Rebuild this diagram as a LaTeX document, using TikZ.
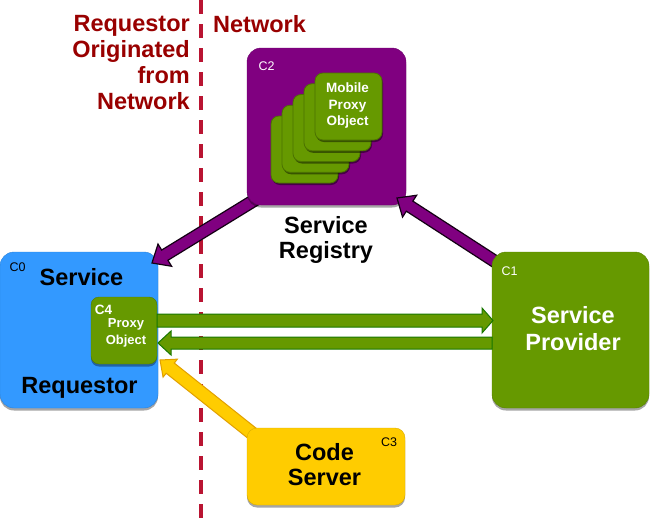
\documentclass[tikz,border=0pt]{standalone}
\usepackage{fontspec}
\setmainfont{Liberation Sans}
\usetikzlibrary{calc,shadows}
\definecolor{cpurple}{RGB}{128,0,128}
\definecolor{cblue}{RGB}{51,153,255}
\definecolor{cgreen}{RGB}{102,153,0}
\definecolor{cyellow}{RGB}{255,204,0}
\definecolor{cdred}{RGB}{153,0,0}
\definecolor{cdash}{RGB}{185,20,50}
\definecolor{cgline}{RGB}{25,120,0}
\definecolor{cyline}{RGB}{225,160,0}
\definecolor{cpline}{RGB}{20,0,20}

\newcommand\blockarrow[6]{% #1 from, #2 to, #3 style, #4 shaft half width, #5 head half width, #6 head length
  \path[#3] let \p1=(#1), \p2=(#2),
     \n1={atan2(\y2-\y1,\x2-\x1)},
     \n2={veclen(\x2-\x1,\y2-\y1)-#6}
   in ($(\p1)+({\n1+90}:#4)$) -- ($(\p1)+(\n1:\n2)+({\n1+90}:#4)$)
   -- ($(\p1)+(\n1:\n2)+({\n1+90}:#5)$) -- (\p2)
   -- ($(\p1)+(\n1:\n2)+({\n1-90}:#5)$) -- ($(\p1)+(\n1:\n2)+({\n1-90}:#4)$)
   -- ($(\p1)+({\n1-90}:#4)$) -- cycle;}

\tikzset{
  box/.style={rounded corners=14pt, inner sep=0pt, outer sep=0pt,
    drop shadow={shadow xshift=0pt, shadow yshift=-2.5pt, opacity=0.35, fill=black}},
  card/.style={rounded corners=8pt, inner sep=0pt, outer sep=0pt, fill=cgreen,
    draw=cgreen!75!black, line width=0.8pt, minimum width=67pt, minimum height=67pt,
    drop shadow={shadow xshift=1pt, shadow yshift=-2pt, opacity=0.45, fill=black}},
  big/.style={font=\fontsize{23.5}{25}\selectfont\bfseries, align=center, inner sep=0pt},
  tag/.style={font=\fontsize{12.5}{14}\selectfont, inner sep=0pt},
  small/.style={font=\fontsize{13.5}{16.5}\selectfont\bfseries, align=center, inner sep=0pt, text=white},
  dashline/.style={draw=cdash, line width=4pt, dash pattern=on 14pt off 10pt},
  parrow/.style={fill=cpurple, draw=cpline, line width=1.2pt, line join=miter},
  garrow/.style={fill=cgreen, draw=cgline, line width=1pt, line join=miter},
  yarrow/.style={fill=cyellow, draw=cyline, line width=1pt, line join=miter},
}

\begin{document}
\begin{tikzpicture}[x=1pt,y=1pt]
\useasboundingbox (0,0) rectangle (650,-523);
\fill[white] (0,0) rectangle (650,-523);

% dashed divider
\coordinate (dtop) at (201,0);
\coordinate (dbot) at (201,-523);
\draw[dashline] (dtop) -- (dbot);

% region labels
\node[big, text=cdred, align=right, anchor=north east, font=\fontsize{23.5}{26}\selectfont\bfseries]
  (lreq) at (190,-15.2) {Requestor\\Originated\\from\hspace*{7pt}\\Network};
\node[big, text=cdred, anchor=base west] (lnet) at (213,-32.5) {Network};

% C0 service requestor
\node[box, fill=cblue, draw=cblue!85!black, minimum width=158pt, minimum height=156pt] (c0) at (79,-330) {};
\node[tag, text=black] (t0) at (17.5,-267.5) {C0};
\node[big, anchor=base] (sreq1) at (81.5,-285) {Service};
\node[big, anchor=base] (sreq2) at (79.5,-393) {Requestor};

% C4 proxy object
\node[box, rounded corners=8pt, fill=cgreen, draw=cgreen!80!black, minimum width=66pt, minimum height=67pt] (c4) at (124,-330.5) {};
\node[small, font=\fontsize{13.5}{16}\selectfont\bfseries] (t4) at (103.5,-310) {C4};
\node[small, font=\fontsize{13}{17}\selectfont\bfseries, anchor=north] (proxy) at (126,-318) {Proxy\\Object};

% purple arrow registry -> requestor
\coordinate (p1s) at ($(c0.north east)+(100,54)$);
\coordinate (p1e) at ($(c0.north east)+(-6,-11)$);
\blockarrow{p1s}{p1e}{parrow}{6}{13}{15}

% C2 service registry
\node[box, fill=cpurple, draw=cpurple!85!black, minimum width=159pt, minimum height=157pt] (c2) at (326.5,-126.5) {};
\node[tag, text=white] (t2) at (266.5,-66) {C2};
\foreach \i in {4,3,2,1} {
  \node[card] (card\i) at ({348.5-11*\i},{-106.5-10.75*\i}) {};
}
\node[card] (card0) at (348.5,-106.5) {};
\node[small, anchor=north] (mpo) at (347.5,-83) {Mobile\\Proxy\\Object};
\node[big, anchor=north] (sreg) at (326,-216) {Service\\Registry};

% purple arrow provider -> registry
\coordinate (p2s) at (502,-266);
\coordinate (p2e) at ($(c2.south east)+(-9,7)$);
\blockarrow{p2s}{p2e}{parrow}{6}{13}{15}

% C1 service provider
\node[box, fill=cgreen, draw=cgreen!85!black, minimum width=157pt, minimum height=156pt] (c1) at (570.5,-330) {};
\node[tag, text=white] (t1) at (509.5,-271) {C1};
\node[big, text=white, anchor=north, font=\fontsize{23.5}{27}\selectfont\bfseries] (sprov) at (573,-306) {Service\\Provider};

% green arrows
\coordinate (g1s) at ($(c4.east)+(0,10)$);
\coordinate (g1e) at ($(c1.west)+(1,9.5)$);
\blockarrow{g1s}{g1e}{garrow}{6.5}{12.5}{11}
\coordinate (g2s) at ($(c1.west)+(0,-13)$);
\coordinate (g2e) at ($(c4.east)+(1,-12.5)$);
\blockarrow{g2s}{g2e}{garrow}{6}{12}{13}

% yellow arrow code server -> proxy
\coordinate (y1s) at (258,-438);
\coordinate (y1e) at ($(c4.south east)+(3,4)$);
\blockarrow{y1s}{y1e}{yarrow}{6.5}{11.5}{13}

% C3 code server
\node[box, rounded corners=10pt, fill=cyellow, draw=cyellow!85!black, minimum width=158pt, minimum height=77pt] (c3) at (326,-466.5) {};
\node[tag, text=black] (t3) at (389,-442) {C3};
\node[big, anchor=north] (code) at (324.5,-443) {Code\\Server};
\end{tikzpicture}
\end{document}
